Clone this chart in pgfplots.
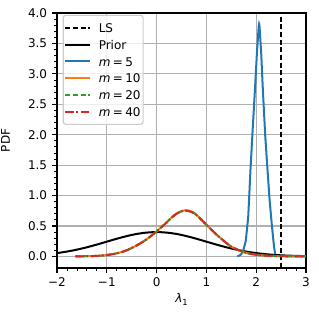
\documentclass[border=0pt]{standalone}
\usepackage{fontspec}
\setmainfont{DejaVu Sans}
\usepackage{pgfplots}
\pgfplotsset{compat=1.18}
\definecolor{tabblue}{HTML}{1F77B4}
\definecolor{taborange}{HTML}{FF7F0E}
\definecolor{tabgreen}{HTML}{2CA02C}
\definecolor{tabred}{HTML}{D62728}
\definecolor{gridgray}{HTML}{B0B0B0}
\definecolor{legendgray}{HTML}{CCCCCC}
\begin{document}
\begin{tikzpicture}[font=\fontsize{12bp}{14bp}\selectfont]
\begin{axis}[name=ax, scale only axis, width=249bp, height=255bp,
  xmin=-2, xmax=3, ymin=-0.191, ymax=4,
  xtick={-2,-1,0,1,2,3}, xticklabels={−2,−1,0,1,2,3},
  ytick={0,0.5,...,4}, yticklabels={0.0,0.5,1.0,1.5,2.0,2.5,3.0,3.5,4.0},
  minor x tick num=4, minor y tick num=4,
  tick align=outside, tick pos=left,
  major tick length=4.9bp, minor tick length=2.8bp,
  major tick style={black, line width=1.1bp},
  minor tick style={black, line width=0.8bp},
  every tick label/.append style={inner sep=0bp, outer sep=0bp},
  xticklabel style={yshift=-5bp},
  yticklabel style={xshift=-5bp},
  grid=major, major grid style={color=gridgray, line width=1.1bp},
  axis line style={line width=1.1bp},
  xlabel={\textit{λ}\raisebox{-0.25em}{\fontsize{8.4bp}{10bp}\selectfont 1}},
  ylabel={PDF},
  every axis y label/.style={at={(axis description cs:-0.207,0.5)}, rotate=90, anchor=center},
  every axis x label/.style={at={(axis description cs:0.5,-0.122)}, anchor=center},
  legend style={at={(0.023,0.993)}, anchor=north west, draw=legendgray, rounded corners=2.5bp,
    line width=1.1bp, fill=white, fill opacity=0.8, text opacity=1,
    inner xsep=1bp, inner ysep=4.5bp, row sep=0.2bp, column sep=6bp,
    font=\fontsize{12bp}{14bp}\selectfont,
    nodes={text height=11.5bp, text depth=2bp, inner sep=1.5bp}},
  legend cell align=left,
  legend image code/.code={\draw[#1] (0bp,0bp) -- (25bp,0bp);},
]
\addplot[black, line width=2bp, dash pattern=on 5bp off 2.7bp] coordinates {(2.5,-0.191) (2.5,4)};
\addlegendentry{LS}
\addplot[black, line width=2bp, smooth] coordinates {
(-2.0,0.0540) (-1.8,0.0790) (-1.6,0.1109) (-1.4,0.1497) (-1.2,0.1942) (-1.0,0.2420)
(-0.8,0.2897) (-0.6,0.3332) (-0.4,0.3683) (-0.2,0.3910) (0,0.3989) (0.2,0.3910)
(0.4,0.3683) (0.6,0.3332) (0.8,0.2897) (1.0,0.2420) (1.2,0.1942) (1.4,0.1497)
(1.6,0.1109) (1.8,0.0790) (2.0,0.0540) (2.2,0.0355) (2.4,0.0224) (2.6,0.0136)
(2.8,0.0079) (3.0,0.0044)};
\addlegendentry{Prior}
\addplot[tabblue, line width=2bp] coordinates {
(1.62,0.00) (1.68,0.02) (1.73,0.07) (1.79,0.25) (1.84,0.65) (1.885,1.42) (1.93,2.10)
(1.975,2.74) (2.015,3.35) (2.05,3.78) (2.058,3.82) (2.065,3.80) (2.10,3.35) (2.13,2.80)
(2.18,2.00) (2.227,1.42) (2.27,0.92) (2.31,0.55) (2.34,0.30) (2.36,0.15) (2.38,0.04)};
\addlegendentry{\textit{m}\hspace{0.2em}=\hspace{0.2em}5}
\addplot[taborange, line width=2bp, smooth] coordinates {
(-1.63,0.000) (-1.4,0.003) (-1.2,0.008) (-1.0,0.022) (-0.8,0.05) (-0.6,0.10) (-0.4,0.18)
(-0.2,0.28) (0.0,0.41) (0.2,0.56) (0.3,0.64) (0.4,0.705) (0.5,0.745) (0.58,0.76) (0.7,0.74)
(0.8,0.685) (0.9,0.605) (1.0,0.52) (1.1,0.44) (1.2,0.36) (1.3,0.29) (1.4,0.22) (1.5,0.16)
(1.6,0.12) (1.7,0.085) (1.8,0.058) (1.9,0.04) (2.0,0.027) (2.2,0.012) (2.4,0.005)
(2.6,0.002) (2.8,0.001) (3.0,0.0)};
\addlegendentry{\textit{m}\hspace{0.2em}=\hspace{0.2em}10}
\addplot[tabgreen, line width=2bp, smooth, dash pattern=on 5bp off 2.7bp] coordinates {
(-1.63,0.000) (-1.4,0.003) (-1.2,0.008) (-1.0,0.021) (-0.8,0.05) (-0.6,0.10) (-0.4,0.18)
(-0.2,0.28) (0.0,0.41) (0.2,0.555) (0.3,0.635) (0.4,0.70) (0.5,0.74) (0.58,0.752) (0.7,0.735)
(0.8,0.68) (0.9,0.60) (1.0,0.52) (1.1,0.44) (1.2,0.36) (1.3,0.29) (1.4,0.22) (1.5,0.16)
(1.6,0.12) (1.7,0.085) (1.8,0.058) (1.9,0.04) (2.0,0.027) (2.2,0.012) (2.4,0.005)
(2.6,0.002) (2.8,0.001) (3.0,0.0)};
\addlegendentry{\textit{m}\hspace{0.2em}=\hspace{0.2em}20}
\addplot[tabred, line width=2bp, smooth, dash pattern=on 8.5bp off 2.7bp on 1.6bp off 2.7bp] coordinates {
(-1.63,0.000) (-1.4,0.003) (-1.2,0.008) (-1.0,0.022) (-0.8,0.05) (-0.6,0.10) (-0.4,0.18)
(-0.2,0.28) (0.0,0.41) (0.2,0.555) (0.3,0.635) (0.4,0.70) (0.5,0.74) (0.58,0.75) (0.7,0.73)
(0.8,0.678) (0.9,0.60) (1.0,0.52) (1.1,0.44) (1.2,0.36) (1.3,0.29) (1.4,0.22) (1.5,0.16)
(1.6,0.12) (1.7,0.085) (1.8,0.058) (1.9,0.04) (2.0,0.027) (2.2,0.012) (2.4,0.005)
(2.6,0.002) (2.8,0.001) (3.0,0.0)};
\addlegendentry{\textit{m}\hspace{0.2em}=\hspace{0.2em}40}
\end{axis}
\pgfresetboundingbox
\path ([shift={(-57bp,-48bp)}]ax.south west) rectangle ([shift={(13bp,13bp)}]ax.north east);
\end{tikzpicture}
\end{document}
